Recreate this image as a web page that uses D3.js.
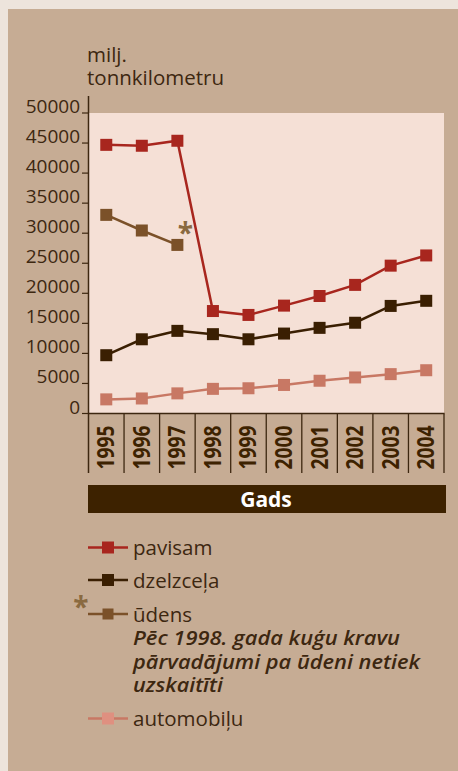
<!DOCTYPE html>
<html><head><meta charset="utf-8">
<script src="https://cdn.jsdelivr.net/npm/d3@7"></script>
<style>
html,body{margin:0;padding:0;background:#ede4dc;}
svg{display:block;font-family:"Open Sans",sans-serif;}
</style></head>
<body>
<svg id="c" width="458" height="771"></svg>
<script>
const years = ["1995","1996","1997","1998","1999","2000","2001","2002","2003","2004"];
const yTicks = [0,5000,10000,15000,20000,25000,30000,35000,40000,45000,50000];
const pavisam = [44700,44550,45380,17050,16400,17950,19550,21400,24600,26300];
const dzelzcela = [9700,12350,13750,13200,12350,13300,14250,15100,17900,18750];
const udens = [33050,30450,28050];
const automobilu = [2350,2500,3350,4100,4200,4750,5450,6000,6550,7200];
const seriesNames = ["pavisam","dzelzceļa","ūdens","automobiļu"];
const noteLines = ["Pēc 1998. gada kuģu kravu","pārvadājumi pa ūdeni netiek","uzskaitīti"];
const noteWidths = [267,287,90];

const C = {bg:"#ede4dc", panel:"#c6ac94", plot:"#f5e0d6", text:"#3d2710",
  pav:"#a8261e", dz:"#3a1f02", ud:"#7b5129", au:"#c87864", star:"#8a6a40", gads:"#3d2200"};

const svg = d3.select("#c");
svg.append("rect").attr("x",8).attr("y",9).attr("width",450).attr("height",762).attr("fill",C.panel);

const x = d3.scaleBand().domain(years).range([88.5,444]).padding(0);
const y = d3.scaleLinear().domain([0,50000]).range([413.5,113]);

svg.append("rect").attr("x",x.range()[0]).attr("y",y(50000))
  .attr("width",x.range()[1]-x.range()[0]).attr("height",y(0)-y(50000)).attr("fill",C.plot);

// title
svg.append("text").attr("x",87).attr("y",62).attr("font-size",20.5).attr("fill",C.text).text("milj.");
svg.append("text").attr("x",87).attr("y",85).attr("font-size",20.5).attr("fill",C.text).text("tonnkilometru");

// y axis
svg.append("line").attr("x1",88.5).attr("x2",88.5).attr("y1",96).attr("y2",473).attr("stroke",C.text).attr("stroke-width",1.5);
const yg = svg.append("g");
yTicks.forEach(t=>{
  yg.append("line").attr("x1",82).attr("x2",88.5).attr("y1",y(t)).attr("y2",y(t)).attr("stroke",C.text).attr("stroke-width",1.2);
  yg.append("text").attr("x",80).attr("y",y(t)).attr("text-anchor","end").attr("font-size",19)
    .attr("fill",C.text).text(t);
});

// x axis
svg.append("line").attr("x1",88).attr("x2",444.5).attr("y1",y(0)).attr("y2",y(0)).attr("stroke",C.text).attr("stroke-width",1.5);
years.forEach((yr,i)=>{
  const xe = x(yr)+x.bandwidth();
  svg.append("line").attr("x1",xe).attr("x2",xe).attr("y1",y(0)).attr("y2",473).attr("stroke",C.text).attr("stroke-width",1.3);
  const cx = x(yr)+x.bandwidth()/2;
  svg.append("text").attr("transform",`translate(${cx+8},${447.5}) rotate(-90)`)
    .attr("text-anchor","middle").attr("font-size",22.5).attr("font-weight",700).attr("fill",C.gads)
    .attr("textLength",44).attr("lengthAdjust","spacingAndGlyphs").text(yr);
});

// Gads bar
svg.append("rect").attr("x",88).attr("y",485).attr("width",358).attr("height",28).attr("fill",C.gads);
svg.append("text").attr("x",266).attr("y",506.5).attr("text-anchor","middle").attr("font-size",21)
  .attr("font-weight",700).attr("fill","#fff").text("Gads");

// lines
const line = d3.line().x((d,i)=>x(years[i])+x.bandwidth()/2).y(d=>y(d));
function drawSeries(data,color,size){
  svg.append("path").attr("d",line(data)).attr("fill","none").attr("stroke",color).attr("stroke-width",2.5);
  svg.selectAll(null).data(data).enter().append("rect")
    .attr("x",(d,i)=>x(years[i])+x.bandwidth()/2-size/2).attr("y",d=>y(d)-size/2)
    .attr("width",size).attr("height",size).attr("fill",color);
}
drawSeries(automobilu,C.au,12);
drawSeries(udens,C.ud,12);
drawSeries(dzelzcela,C.dz,12);
drawSeries(pavisam,C.pav,12);

svg.append("text").attr("x",185.5).attr("y",243).attr("text-anchor","middle").attr("font-size",28)
  .attr("font-weight",700).attr("fill",C.star).text("*");

// legend
const leg = [
  {name:seriesNames[0],color:C.pav,y:547.5,ms:12},
  {name:seriesNames[1],color:C.dz,y:580,ms:12},
  {name:seriesNames[2],color:C.ud,y:614,ms:11},
  {name:seriesNames[3],color:C.au,y:718.5,ms:12, mcol:"#df9080"}
];
leg.forEach(l=>{
  svg.append("line").attr("x1",88).attr("x2",128).attr("y1",l.y).attr("y2",l.y).attr("stroke",l.color).attr("stroke-width",2.5);
  svg.append("rect").attr("x",108-l.ms/2).attr("y",l.y-l.ms/2).attr("width",l.ms).attr("height",l.ms).attr("fill",l.mcol||l.color);
  svg.append("text").attr("x",133).attr("y",l.y+7.5).attr("font-size",20.5).attr("fill",C.text).text(l.name);
});
svg.append("text").attr("x",81).attr("y",617).attr("text-anchor","middle").attr("font-size",28)
  .attr("font-weight",700).attr("fill",C.star).text("*");
noteLines.forEach((t,i)=>{
  svg.append("text").attr("x",133).attr("y",645+i*23.5).attr("font-size",20).attr("font-style","italic")
    .attr("font-weight",600).attr("fill",C.text)
    .attr("textLength",noteWidths[i]).attr("lengthAdjust","spacingAndGlyphs").text(t);
});
</script>
</body></html>
